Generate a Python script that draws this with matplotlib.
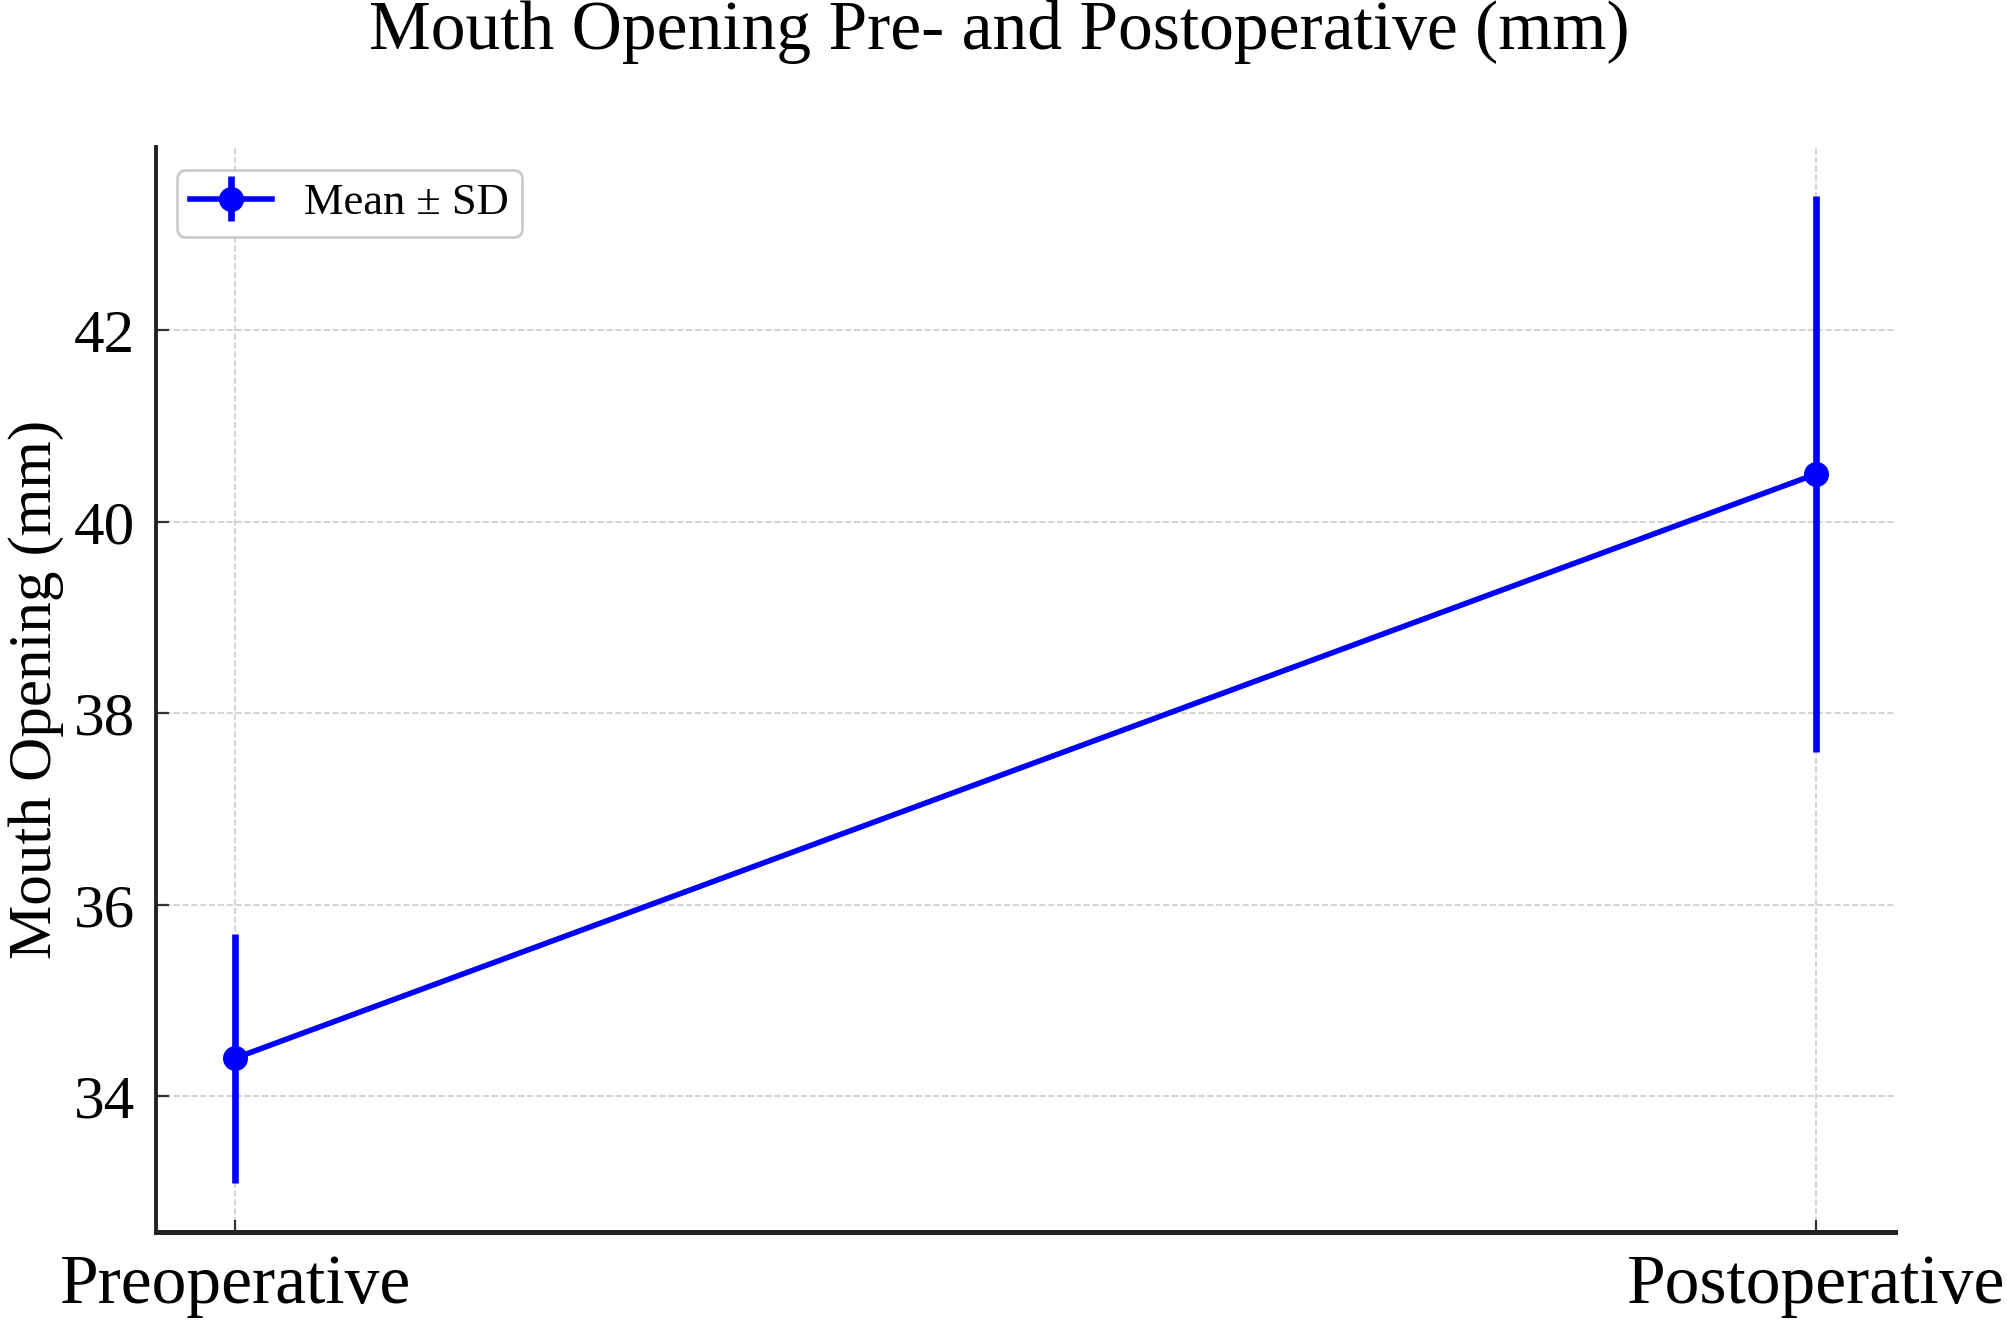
import matplotlib
matplotlib.use("Agg")
import matplotlib.pyplot as plt

# 数据
stages = ["Preoperative", "Postoperative"]
mean_values = [34.4, 40.5]
sd_values = [1.3, 2.9]

plt.rcParams.update({
    "font.family": ["Liberation Serif", "DejaVu Serif"],
    "font.size": 25,
    "xtick.direction": "in",
    "ytick.direction": "in",
    "xtick.major.size": 4.5,
    "ytick.major.size": 4.5,
    "xtick.major.width": 0.8,
    "ytick.major.width": 0.8,
    "xtick.major.pad": 8,
    "ytick.major.pad": 7.5,
})

fig = plt.figure(figsize=(10.04, 6.6), dpi=200)
ax = fig.add_axes([0.0777, 0.0667, 0.9437 - 0.0777, 0.8886 - 0.0667])

ax.errorbar(
    stages, mean_values, yerr=sd_values,
    fmt="-o", color="blue", linewidth=2, elinewidth=2.4,
    markersize=8, capsize=0, label="Mean ± SD",
)

ax.grid(True, linestyle="--", linewidth=0.6, color="#cccccc")
ax.set_axisbelow(True)

for side in ["top", "right"]:
    ax.spines[side].set_visible(False)
ax.spines["left"].set_linewidth(1.4)
ax.spines["bottom"].set_linewidth(1.8)
ax.spines["left"].set_color("#222222")
ax.spines["bottom"].set_color("#222222")
ax.tick_params(axis="x", colors="#333333", labelcolor="black", labelsize=25)
ax.tick_params(axis="y", colors="#333333", labelcolor="black", labelsize=22)

ax.set_ylabel("Mouth Opening (mm)", fontsize=22)
ax.yaxis.set_label_coords(-0.053, 0.5)
ax.set_yticks([34, 36, 38, 40, 42])

ax.legend(loc="upper left", fontsize=16, frameon=True, fancybox=True,
          edgecolor="#cccccc", framealpha=1.0, borderpad=0.3,
          borderaxespad=0, handlelength=1.85, handletextpad=0.7,
          bbox_to_anchor=(0.012, 0.979))

fig.text(0.4975, 1 - 32 / 1320, "Mouth Opening Pre- and Postoperative (mm)",
         ha="center", va="center", fontsize=25)

fig.savefig("out.png", dpi=200)
